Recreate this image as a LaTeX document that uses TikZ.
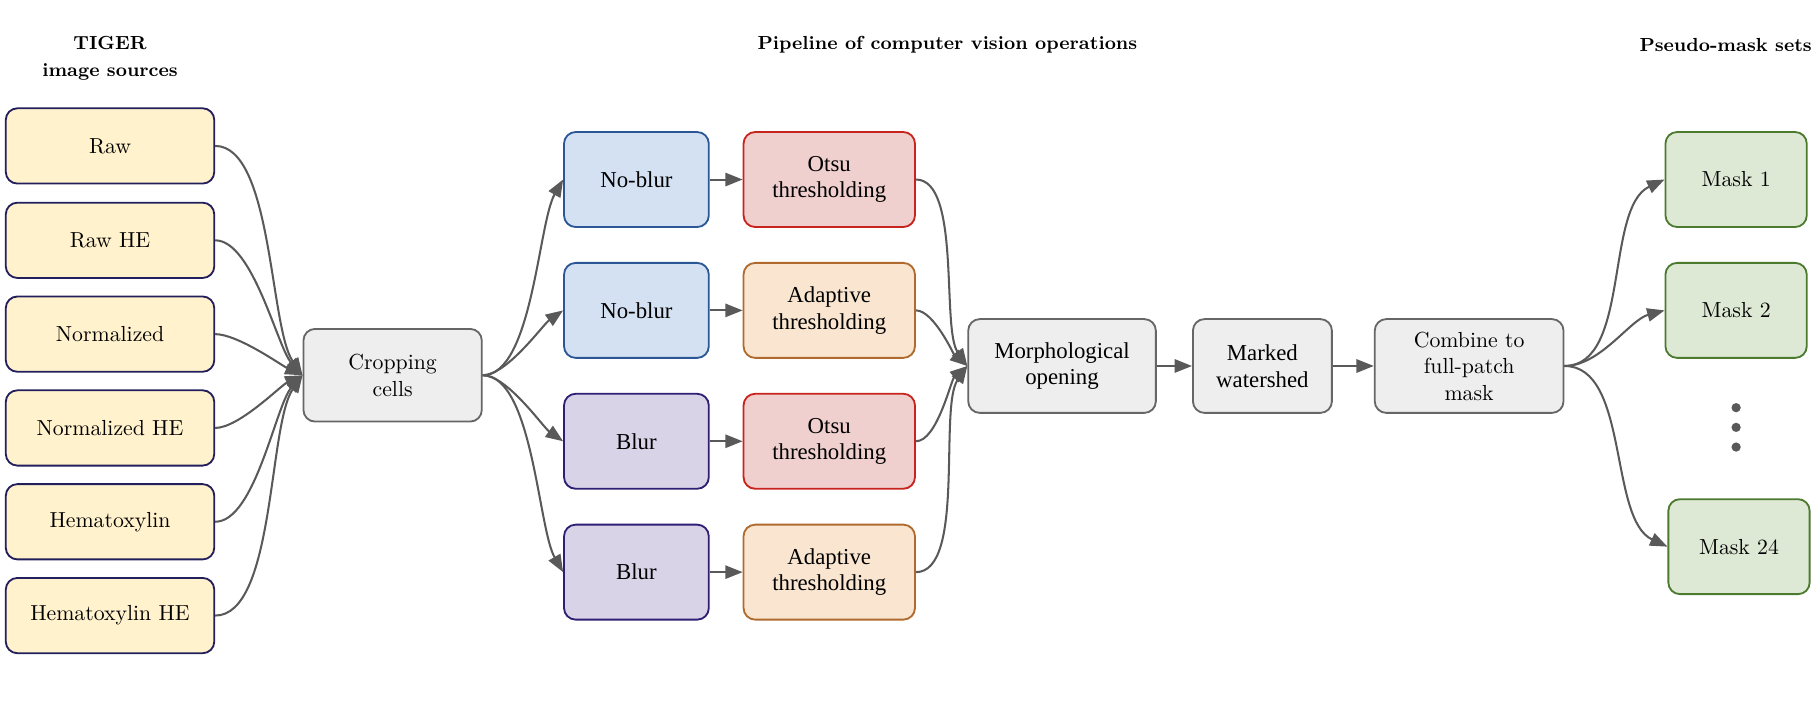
\documentclass[tikz,border=0pt]{standalone}
\usepackage{fontspec}
\usepackage{xcolor}
\usepackage{tikz}
\usetikzlibrary{arrows.meta}
\usetikzlibrary{positioning}
\usetikzlibrary{calc}
\newfontfamily\timesfont{Liberation Serif}
\definecolor{srcfill}{HTML}{FFF2CC}
\definecolor{srcline}{HTML}{231F5C}
\definecolor{cropfill}{HTML}{EEEEEE}
\definecolor{cropline}{HTML}{666666}
\definecolor{noblurfill}{HTML}{D4E1F2}
\definecolor{noblurline}{HTML}{2B5797}
\definecolor{blurfill}{HTML}{D9D3E8}
\definecolor{blurline}{HTML}{2E1E74}
\definecolor{otsufill}{HTML}{F0CFCF}
\definecolor{otsuline}{HTML}{C8241E}
\definecolor{adaptfill}{HTML}{F9E5D0}
\definecolor{adaptline}{HTML}{B06A2E}
\definecolor{maskfill}{HTML}{DDE9D5}
\definecolor{maskline}{HTML}{4C7A2F}
\definecolor{arrowgray}{HTML}{595959}

\begin{document}
\begin{tikzpicture}[>={Triangle[length=3mm,width=2.3mm]}, line width=1pt]
            \useasboundingbox (0,0) rectangle (31.36,-12.12);
            \begin{scope}[every node/.style={font=\bfseries\fontsize{9.3}{13}\selectfont, align=center, inner sep=0mm}]
                \node at (1.9,-1.01) (srctitle) {TIGER\\image sources};
                \node at (16.36,-0.78) (pipetitle) {Pipeline of computer vision operations};
                \node at (29.8,-0.78) (masktitle) {Pseudo-mask sets};
            \end{scope}
            \begin{scope}[every node/.style={draw,
                rounded corners=2mm,
                line width=0.9pt,
                inner sep=0mm,
                align=center,
                font=\fontsize{10.7}{13}\selectfont}]
                \node[fill=srcfill, draw=srcline, minimum width=3.6cm, minimum height=1.3cm] at (1.9,-2.52) (raw) {Raw};
                \node[fill=srcfill, draw=srcline, minimum width=3.6cm, minimum height=1.3cm] at (1.9,-4.15) (rawhe) {Raw HE};
                \node[fill=srcfill, draw=srcline, minimum width=3.6cm, minimum height=1.3cm] at (1.9,-5.77) (norm) {Normalized};
                \node[fill=srcfill, draw=srcline, minimum width=3.6cm, minimum height=1.3cm] at (1.9,-7.39) (normhe) {Normalized HE};
                \node[fill=srcfill, draw=srcline, minimum width=3.6cm, minimum height=1.3cm] at (1.9,-9.01) (hema) {Hematoxylin};
                \node[fill=srcfill, draw=srcline, minimum width=3.6cm, minimum height=1.3cm] at (1.9,-10.63) (hemahe) {Hematoxylin HE};
                \node[fill=cropfill, draw=cropline, minimum width=3.08cm, minimum height=1.6cm] at (6.78,-6.48) (crop) {Cropping\\cells};
                \node[fill=noblurfill, draw=noblurline, minimum width=2.5cm, minimum height=1.64cm, font=\timesfont\fontsize{11.2}{13}\selectfont] at (10.99,-3.1) (noblura) {No-blur};
                \node[fill=noblurfill, draw=noblurline, minimum width=2.5cm, minimum height=1.64cm, font=\timesfont\fontsize{11.2}{13}\selectfont] at (10.99,-5.36) (noblurb) {No-blur};
                \node[fill=blurfill, draw=blurline, minimum width=2.5cm, minimum height=1.64cm, font=\timesfont\fontsize{11.2}{13}\selectfont] at (10.99,-7.62) (blura) {Blur};
                \node[fill=blurfill, draw=blurline, minimum width=2.5cm, minimum height=1.64cm, font=\timesfont\fontsize{11.2}{13}\selectfont] at (10.99,-9.88) (blurb) {Blur};
                \node[fill=otsufill, draw=otsuline, minimum width=2.96cm, minimum height=1.64cm, font=\timesfont\fontsize{11.2}{13}\selectfont] at (14.32,-3.1) (otsua) {Otsu\\thresholding};
                \node[fill=adaptfill, draw=adaptline, minimum width=2.96cm, minimum height=1.64cm, font=\timesfont\fontsize{11.2}{13}\selectfont] at (14.32,-5.36) (adapta) {Adaptive\\thresholding};
                \node[fill=otsufill, draw=otsuline, minimum width=2.96cm, minimum height=1.64cm, font=\timesfont\fontsize{11.2}{13}\selectfont] at (14.32,-7.62) (otsub) {Otsu\\thresholding};
                \node[fill=adaptfill, draw=adaptline, minimum width=2.96cm, minimum height=1.64cm, font=\timesfont\fontsize{11.2}{13}\selectfont] at (14.32,-9.88) (adaptb) {Adaptive\\thresholding};
                \node[fill=cropfill, draw=cropline, minimum width=3.24cm, minimum height=1.62cm, font=\timesfont\fontsize{11.2}{13}\selectfont] at (18.34,-6.32) (morph) {Morphological\\opening};
                \node[fill=cropfill, draw=cropline, minimum width=2.4cm, minimum height=1.62cm, font=\timesfont\fontsize{11.2}{13}\selectfont] at (21.8,-6.32) (water) {Marked\\watershed};
                \node[fill=cropfill, draw=cropline, minimum width=3.26cm, minimum height=1.62cm] at (25.37,-6.32) (comb) {Combine to\\full-patch\\mask};
                \node[fill=maskfill, draw=maskline, minimum width=2.44cm, minimum height=1.64cm] at (29.98,-3.1) (maska) {Mask 1};
                \node[fill=maskfill, draw=maskline, minimum width=2.44cm, minimum height=1.64cm] at (29.98,-5.36) (maskb) {Mask 2};
                \node[fill=maskfill, draw=maskline, minimum width=2.44cm, minimum height=1.64cm] at (30.03,-9.44) (maskx) {Mask 24};
            \end{scope}
            \fill[arrowgray] (29.98,-7.04) circle (0.08) (29.98,-7.38) circle (0.08) (29.98,-7.72) circle (0.08);
            \begin{scope}[arrowgray, looseness=0.6]
                \draw[->] (raw.east) to[out=0,in=125] (crop.west);
                \draw[->] (rawhe.east) to[out=0,in=132] (crop.west);
                \draw[->] (norm.east) to[out=0,in=155] (crop.west);
                \draw[->] (normhe.east) to[out=0,in=205] (crop.west);
                \draw[->] (hema.east) to[out=0,in=228] (crop.west);
                \draw[->] (hemahe.east) to[out=0,in=235] (crop.west);
                \draw[->] (crop.east) to[out=0,in=240] (noblura.west);
                \draw[->] (crop.east) to[out=0,in=215] (noblurb.west);
                \draw[->] (crop.east) to[out=0,in=145] (blura.west);
                \draw[->] (crop.east) to[out=0,in=120] (blurb.west);
                \draw[->] (noblura) -- (otsua);
                \draw[->] (noblurb) -- (adapta);
                \draw[->] (blura) -- (otsub);
                \draw[->] (blurb) -- (adaptb);
                \draw[->] (otsua.east) to[out=0,in=125] (morph.west);
                \draw[->] (adapta.east) to[out=0,in=140] (morph.west);
                \draw[->] (otsub.east) to[out=0,in=220] (morph.west);
                \draw[->] (adaptb.east) to[out=0,in=235] (morph.west);
                \draw[->] (morph) -- (water);
                \draw[->] (water) -- (comb);
                \draw[->] (comb.east) to[out=0,in=205, looseness=0.8] (maska.west);
                \draw[->] (comb.east) to[out=0,in=195, looseness=0.8] (maskb.west);
                \draw[->] (comb.east) to[out=0,in=155, looseness=0.8] (maskx.west);
            \end{scope}
        \end{tikzpicture}
\end{document}
